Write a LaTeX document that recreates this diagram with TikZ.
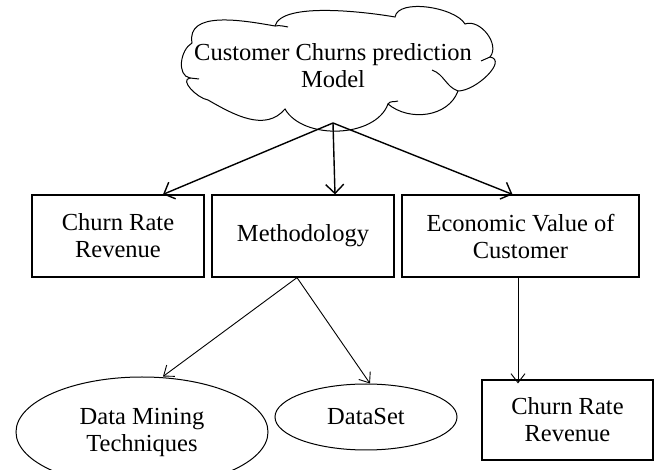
\documentclass[tikz,border=0pt]{standalone}
\usepackage{fontspec}
\setmainfont{Liberation Serif}
\usetikzlibrary{shapes.geometric,arrows.meta}
\tikzset{
  txt/.style={font=\fontsize{24.5}{27}\selectfont, align=center},
  boxnode/.style={draw, line width=1.2pt, inner sep=0pt},
  ovalnode/.style={ellipse, draw, line width=1pt, inner sep=0pt},
  toparrow/.style={line width=1.4pt, -{Straight Barb[length=9pt,width=18pt,line width=1.4pt]}},
  lowarrow/.style={line width=0.9pt, -{Straight Barb[length=9pt,width=14pt,line width=0.9pt]}}
}
\begin{document}
\begin{tikzpicture}[x=1pt,y=-1pt]
        \useasboundingbox (0,0) rectangle (657,470);
        % cloud outline
        \coordinate (J1) at (192,43);
        \coordinate (J2) at (275,26);
        \coordinate (J3) at (395,17);
        \coordinate (J4) at (465,24);
        \coordinate (J5) at (490,57);
        \coordinate (J6) at (458,91);
        \coordinate (J7) at (388,104);
        \coordinate (J8) at (285,109);
        \coordinate (J9) at (208,100);
        \coordinate (J10) at (190,78);
        \draw[line width=1pt] (J1) to[out=100,in=170] (J2)
          to[out=75,in=170,looseness=0.55] (J3)
          to[out=80,in=120,looseness=0.7] (J4)
          to[out=20,in=50] (J5)
          to[out=-10,in=0] (J6)
          to[out=-110,in=-40] (J7)
          to[out=-110,in=-60,looseness=0.9] (J8)
          to[out=-130,in=-30] (J9)
          to[out=170,in=190] (J10)
          to[out=170,in=210] cycle;
        % small inner strokes of the cloud
        \draw[line width=1pt] (J2) to[out=10,in=170] (288,27);
        \draw[line width=1pt] (J5) -- (481,61);
        \draw[line width=1pt] (J6) to[out=160,in=-20] (432,70);
        \draw[line width=1pt] (J10) -- (199,79);
        \draw[line width=1pt] (J7) to[out=60,in=-160] (398,101);
        \node[txt] (model) at (333,66) {Customer Churns prediction\\Model};
        \coordinate (apex) at (333,123);
        % first row
        \node[boxnode, txt, minimum width=172pt, minimum height=82pt] (churn) at (118,236) {Churn Rate\\ Revenue};
        \node[boxnode, txt, minimum width=182pt, minimum height=82pt] (method) at (303,236) {Methodology};
        \node[boxnode, txt, minimum width=237pt, minimum height=82pt] (econ) at (520.5,236) {Economic Value of\\Customer};
        % second row
        \node[ovalnode, txt, minimum width=252pt, minimum height=110pt] (mining) at (142,432) {Data Mining\\ Techniques};
        \node[ovalnode, txt, minimum width=182pt, minimum height=66pt] (data) at (366,417) {DataSet};
        \node[boxnode, txt, minimum width=171pt, minimum height=80pt] (churnb) at (567.5,420) {Churn Rate\\ Revenue};
        % arrows
        \draw[toparrow] (apex) -- ([xshift=45pt]churn.north);
        \draw[toparrow] (apex) -- ([xshift=32pt]method.north);
        \draw[toparrow] (apex) -- ([xshift=-8pt]econ.north);
        \draw[lowarrow] ([xshift=-6pt]method.south) -- ([xshift=21pt]mining.north);
        \draw[lowarrow] ([xshift=-6pt]method.south) -- ([xshift=4pt]data.north);
        \draw[lowarrow] ([xshift=-2.5pt]econ.south) -- ([xshift=-49.5pt,yshift=-4pt]churnb.north);
\end{tikzpicture}
\end{document}
